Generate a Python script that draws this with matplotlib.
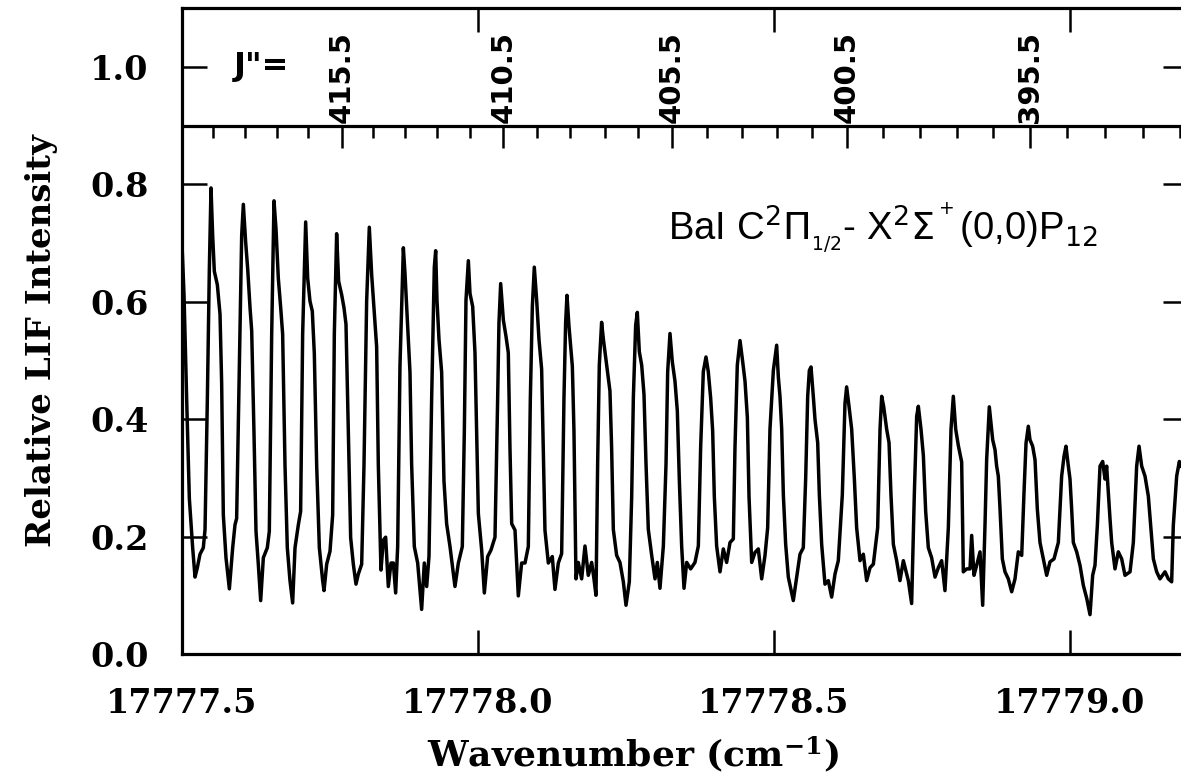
import matplotlib
matplotlib.use("Agg")
import matplotlib.pyplot as plt

# ---------------- data ----------------
wavenumber = [
    17777.5000, 17777.5034, 17777.5079, 17777.5124, 17777.5180, 17777.5220, 17777.5259, 17777.5304,
    17777.5360, 17777.5389, 17777.5428, 17777.5462, 17777.5490, 17777.5518, 17777.5546, 17777.5597,
    17777.5642, 17777.5670, 17777.5698, 17777.5743, 17777.5800, 17777.5856, 17777.5895, 17777.5923,
    17777.5968, 17777.6008, 17777.6036, 17777.6075, 17777.6109, 17777.6149, 17777.6177, 17777.6216,
    17777.6250, 17777.6289, 17777.6329, 17777.6374, 17777.6441, 17777.6475, 17777.6515, 17777.6554,
    17777.6588, 17777.6627, 17777.6667, 17777.6700, 17777.6740, 17777.6779, 17777.6824, 17777.6869,
    17777.6909, 17777.6965, 17777.7004, 17777.7038, 17777.7089, 17777.7123, 17777.7162, 17777.7201,
    17777.7235, 17777.7275, 17777.7320, 17777.7376, 17777.7399, 17777.7444, 17777.7500, 17777.7545,
    17777.7573, 17777.7612, 17777.7646, 17777.7697, 17777.7736, 17777.7770, 17777.7810, 17777.7849,
    17777.7894, 17777.7939, 17777.7978, 17777.8035, 17777.8074, 17777.8119, 17777.8164, 17777.8204,
    17777.8243, 17777.8288,
    17777.8316, 17777.8344, 17777.8361, 17777.8401, 17777.8440, 17777.8485, 17777.8530, 17777.8570,
    17777.8609, 17777.8643, 17777.8682, 17777.8739, 17777.8767, 17777.8806, 17777.8851, 17777.8879,
    17777.8924, 17777.8981, 17777.9048, 17777.9093, 17777.9133, 17777.9172, 17777.9217, 17777.9262,
    17777.9285, 17777.9307, 17777.9341, 17777.9386, 17777.9425, 17777.9470, 17777.9527, 17777.9611,
    17777.9668, 17777.9735, 17777.9769, 17777.9797, 17777.9837, 17777.9865, 17777.9910, 17777.9949,
    17777.9977, 17778.0006, 17778.0062, 17778.0107, 17778.0163, 17778.0219, 17778.0287, 17778.0332,
    17778.0354, 17778.0383, 17778.0428, 17778.0473, 17778.0512, 17778.0540, 17778.0569, 17778.0625,
    17778.0681, 17778.0737, 17778.0794, 17778.0850, 17778.0884, 17778.0918, 17778.0951, 17778.0991,
    17778.1030, 17778.1075, 17778.1103, 17778.1131, 17778.1188, 17778.1255, 17778.1300, 17778.1357,
    17778.1413, 17778.1452, 17778.1480, 17778.1503, 17778.1537, 17778.1593,
    17778.1599, 17778.1621, 17778.1655, 17778.1694, 17778.1751, 17778.1807, 17778.1863, 17778.1920,
    17778.1959, 17778.1993, 17778.2021, 17778.2049, 17778.2088, 17778.2117, 17778.2173, 17778.2229,
    17778.2257, 17778.2286, 17778.2342, 17778.2398, 17778.2455, 17778.2500, 17778.2556, 17778.2596,
    17778.2624, 17778.2663, 17778.2691, 17778.2725, 17778.2765, 17778.2804, 17778.2838, 17778.2877,
    17778.2934, 17778.2990, 17778.3029, 17778.3074, 17778.3131, 17778.3176, 17778.3204, 17778.3243,
    17778.3282, 17778.3327, 17778.3367, 17778.3401, 17778.3440, 17778.3480, 17778.3525, 17778.3592,
    17778.3665, 17778.3722, 17778.3761, 17778.3806, 17778.3851, 17778.3890, 17778.3930, 17778.3964,
    17778.3992, 17778.4031, 17778.4088, 17778.4144, 17778.4200, 17778.4257, 17778.4313, 17778.4341,
    17778.4380, 17778.4426, 17778.4471, 17778.4510, 17778.4550, 17778.4578, 17778.4623, 17778.4679,
    17778.4735, 17778.4792, 17778.4848,
    17778.4893, 17778.4932, 17778.4989, 17778.5045, 17778.5073, 17778.5101, 17778.5130, 17778.5158,
    17778.5197, 17778.5242, 17778.5326, 17778.5383, 17778.5439, 17778.5495, 17778.5535, 17778.5569,
    17778.5597, 17778.5625, 17778.5664, 17778.5693, 17778.5738, 17778.5766, 17778.5805, 17778.5861,
    17778.5918, 17778.5974, 17778.6030, 17778.6086, 17778.6154, 17778.6199, 17778.6227, 17778.6267,
    17778.6312, 17778.6357, 17778.6396, 17778.6453, 17778.6509, 17778.6565, 17778.6622, 17778.6678,
    17778.6751, 17778.6791, 17778.6819, 17778.6852, 17778.6903, 17778.6943, 17778.6976, 17778.7016,
    17778.7072, 17778.7128, 17778.7185, 17778.7269, 17778.7325, 17778.7370, 17778.7410, 17778.7438,
    17778.7483, 17778.7523, 17778.7562, 17778.7607, 17778.7663, 17778.7720, 17778.7776, 17778.7832,
    17778.7888, 17778.7945, 17778.7990, 17778.8029, 17778.8069, 17778.8114, 17778.8170,
    17778.8198, 17778.8254, 17778.8311, 17778.8339, 17778.8378, 17778.8423, 17778.8480, 17778.8525,
    17778.8564, 17778.8592, 17778.8637, 17778.8660, 17778.8694, 17778.8733, 17778.8761, 17778.8789,
    17778.8818, 17778.8857, 17778.8902, 17778.8958, 17778.9015, 17778.9071, 17778.9127, 17778.9184,
    17778.9223, 17778.9257, 17778.9296, 17778.9324, 17778.9369, 17778.9409, 17778.9448, 17778.9493,
    17778.9550, 17778.9606, 17778.9662, 17778.9730, 17778.9803, 17778.9859, 17778.9899, 17778.9932,
    17778.9972, 17779.0000, 17779.0028, 17779.0056, 17779.0113, 17779.0169, 17779.0225, 17779.0282,
    17779.0338, 17779.0383, 17779.0422, 17779.0462, 17779.0507, 17779.0552, 17779.0591, 17779.0619,
    17779.0647, 17779.0676, 17779.0704, 17779.0760, 17779.0816, 17779.0873, 17779.0929, 17779.1014,
    17779.1070, 17779.1126, 17779.1166, 17779.1211, 17779.1267, 17779.1323, 17779.1363, 17779.1408,
    17779.1464, 17779.1520, 17779.1605, 17779.1661, 17779.1717, 17779.1745, 17779.1802, 17779.1847,
    17779.1875,
]
intensity = [
    0.699, 0.612, 0.433, 0.265, 0.181, 0.131, 0.147, 0.170,
    0.181, 0.212, 0.433, 0.657, 0.794, 0.713, 0.652, 0.629,
    0.579, 0.461, 0.237, 0.164, 0.111, 0.181, 0.220, 0.231,
    0.489, 0.713, 0.766, 0.702, 0.657, 0.590, 0.551, 0.377,
    0.209, 0.153, 0.091, 0.164, 0.181, 0.209, 0.545, 0.772,
    0.724, 0.640, 0.590, 0.545, 0.321, 0.181, 0.125, 0.087,
    0.181, 0.220, 0.243, 0.545, 0.736, 0.640, 0.601, 0.584,
    0.512, 0.321, 0.181, 0.125, 0.108, 0.153, 0.175, 0.237,
    0.545, 0.716, 0.635, 0.612, 0.590, 0.562, 0.377, 0.198,
    0.153, 0.119, 0.136, 0.153, 0.321, 0.601, 0.727, 0.646,
    0.590, 0.523,
    0.323, 0.211, 0.143, 0.194, 0.199, 0.115, 0.155, 0.155,
    0.104, 0.183, 0.491, 0.692, 0.648, 0.569, 0.480, 0.323,
    0.183, 0.155, 0.076, 0.155, 0.115, 0.166, 0.435, 0.659,
    0.687, 0.603, 0.536, 0.480, 0.295, 0.222, 0.183, 0.115,
    0.155, 0.183, 0.379, 0.603, 0.670, 0.614, 0.592, 0.513,
    0.379, 0.239, 0.177, 0.104, 0.166, 0.177, 0.199, 0.435,
    0.564, 0.631, 0.569, 0.541, 0.513, 0.351, 0.222, 0.211,
    0.099, 0.155, 0.155, 0.183, 0.435, 0.592, 0.659, 0.603,
    0.536, 0.485, 0.351, 0.211, 0.155, 0.166, 0.110, 0.155,
    0.171, 0.435, 0.564, 0.611, 0.558, 0.491,
    0.470, 0.380, 0.128, 0.156, 0.128, 0.184, 0.134, 0.156,
    0.128, 0.100, 0.324, 0.492, 0.565, 0.537, 0.492, 0.448,
    0.352, 0.212, 0.168, 0.156, 0.123, 0.083, 0.123, 0.268,
    0.436, 0.560, 0.582, 0.515, 0.492, 0.442, 0.324, 0.212,
    0.168, 0.128, 0.156, 0.112, 0.184, 0.324, 0.481, 0.546,
    0.498, 0.465, 0.414, 0.296, 0.184, 0.112, 0.156, 0.145,
    0.156, 0.184, 0.352, 0.481, 0.506, 0.481, 0.436, 0.380,
    0.268, 0.184, 0.140, 0.179, 0.156, 0.190, 0.196, 0.352,
    0.492, 0.534, 0.498, 0.465, 0.403, 0.268, 0.156, 0.173,
    0.179, 0.128, 0.168,
    0.215, 0.383, 0.483, 0.526, 0.472, 0.439, 0.383, 0.271,
    0.187, 0.131, 0.091, 0.131, 0.170, 0.181, 0.299, 0.439,
    0.483, 0.489, 0.439, 0.399, 0.360, 0.271, 0.187, 0.119,
    0.125, 0.097, 0.136, 0.159, 0.271, 0.427, 0.455, 0.422,
    0.383, 0.299, 0.215, 0.159, 0.170, 0.125, 0.147, 0.153,
    0.215, 0.383, 0.439, 0.422, 0.383, 0.360, 0.271, 0.187,
    0.159, 0.125, 0.159, 0.125, 0.086, 0.271, 0.405, 0.422,
    0.383, 0.338, 0.243, 0.181, 0.164, 0.131, 0.147, 0.159,
    0.108, 0.215, 0.383, 0.439, 0.383, 0.355, 0.327,
    0.140, 0.145, 0.145, 0.202, 0.134, 0.151, 0.174, 0.083,
    0.219, 0.331, 0.421, 0.399, 0.365, 0.348, 0.320, 0.303,
    0.247, 0.162, 0.140, 0.128, 0.106, 0.128, 0.174, 0.168,
    0.275, 0.359, 0.388, 0.365, 0.354, 0.331, 0.247, 0.190,
    0.162, 0.134, 0.157, 0.162, 0.190, 0.303, 0.337, 0.354,
    0.320, 0.298, 0.247, 0.190, 0.174, 0.151, 0.117, 0.095,
    0.067, 0.134, 0.151, 0.219, 0.320, 0.328, 0.298, 0.320,
    0.275, 0.230, 0.190, 0.145, 0.174, 0.162, 0.134, 0.140,
    0.190, 0.320, 0.354, 0.320, 0.303, 0.269, 0.219, 0.162,
    0.140, 0.128, 0.140, 0.128, 0.123, 0.219, 0.303, 0.328,
    0.320,
]

# rotational assignment J'' (upper scale) and its line positions
j_values = [419.5, 418.5, 417.5, 416.5, 415.5, 414.5, 413.5, 412.5, 411.5, 410.5,
            409.5, 408.5, 407.5, 406.5, 405.5, 404.5, 403.5, 402.5, 401.5, 400.5,
            399.5, 398.5, 397.5, 396.5, 395.5, 394.5, 393.5, 392.5, 391.5]
j_positions = [17777.5529, 17777.6064, 17777.6600, 17777.7133, 17777.7698, 17777.8231,
               17777.8767, 17777.9302, 17777.9865, 17778.0427, 17778.0992, 17778.1554,
               17778.2145, 17778.2708, 17778.3272, 17778.3863, 17778.4454, 17778.5046,
               17778.5637, 17778.6228, 17778.6846, 17778.7466, 17778.8086, 17778.8704,
               17778.9324, 17778.9944, 17779.0591, 17779.1238, 17779.1858]
j_labeled = [415.5, 410.5, 405.5, 400.5, 395.5]

x_ticks = [17777.5, 17778.0, 17778.5, 17779.0]
x_tick_labels = ["17777.5", "17778.0", "17778.5", "17779.0"]
y_ticks = [0.0, 0.2, 0.4, 0.6, 0.8, 1.0]
y_tick_labels = ["0.0", "0.2", "0.4", "0.6", "0.8", "1.0"]

x_label = "Wavenumber (cm$^{\\mathbf{-1}}$)"
y_label = "Relative LIF Intensity"
j_prefix = 'J"='
band_label = r"BaI C$^2\Pi_{_{1/2}}$- X$^2\Sigma^{^+}$(0,0)P$_{12}$"

# ---------------- figure ----------------
plt.rcParams["mathtext.fontset"] = "dejavuserif"
fig = plt.figure(figsize=(11.81, 7.80), dpi=100)
W, H = 1181.0, 780.0
ax = fig.add_axes([182 / W, 126 / H, 1006.4 / W, 645.7 / H])
ax.set_xlim(17777.5, 17779.2)
ax.set_ylim(0.0, 1.1)

ax.plot(wavenumber, intensity, color="black", lw=2.5, solid_joinstyle="round")

for s in ax.spines.values():
    s.set_linewidth(2.3)
    s.set_color("black")

serif = {"family": "DejaVu Serif", "weight": "bold"}
ax.set_xticks(x_ticks)
ax.set_xticklabels(x_tick_labels, fontdict=serif, fontsize=24)
ax.set_yticks(y_ticks)
ax.set_yticklabels(y_tick_labels, fontdict=serif, fontsize=24)
ax.tick_params(axis="x", which="major", direction="in", length=17, width=1.8,
               top=True, bottom=True, labeltop=False, pad=24)
ax.tick_params(axis="y", which="major", direction="in", length=18, width=1.8,
               left=True, right=True, labelright=False, pad=24)

ax.set_xlabel(x_label, fontdict=serif, fontsize=26)
ax.xaxis.set_label_coords((633 - 182) / 1006.4, -0.124)
ax.set_ylabel(y_label, fontdict=serif, fontsize=24.5)
ax.yaxis.set_label_coords((58 - 182) / 1006.4, 0.485)

# upper J'' scale
ax.axhline(0.9, color="black", lw=2.3)
major_len = 0.038
minor_len = 0.021
for jv, jp in zip(j_values, j_positions):
    ln = major_len if jv in j_labeled else minor_len
    ax.vlines(jp, 0.9 - ln, 0.9, color="black", lw=1.8)
    if jv in j_labeled:
        ax.text(jp, 0.905, f"{jv:.1f}", rotation=90, ha="center", va="bottom",
                fontsize=21, family="DejaVu Sans", weight="bold")
ax.text(17777.635, 1.0, j_prefix, ha="center", va="center", fontsize=23,
        family="DejaVu Sans", weight="bold")

ax.text(17778.321, 0.705, band_label, ha="left", va="baseline", fontsize=27.5,
        family="Liberation Sans", math_fontfamily="dejavusans")

fig.savefig("out.png", dpi=100)
